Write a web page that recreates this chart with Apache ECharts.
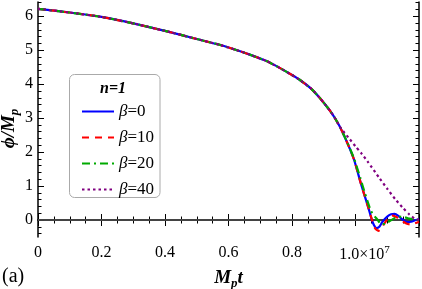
<!DOCTYPE html>
<html><head><meta charset="utf-8">
<script src="https://cdn.jsdelivr.net/npm/echarts@6/dist/echarts.min.js"></script>
<style>html,body{margin:0;padding:0;background:#fff}#c{width:422px;height:289px}</style>
</head><body><div id="c"></div>
<script>
// ---- data (t in units of 1e7, phi in units of M_p) ----
const tShared   = [0, 0.1, 0.2, 0.3, 0.4, 0.5, 0.572, 0.62, 0.667, 0.72, 0.761, 0.8, 0.824, 0.86, 0.887, 0.918, 0.934, 0.95];
const phiShared = [6.22, 6.11, 5.98, 5.79, 5.57, 5.33, 5.16, 5.02, 4.87, 4.68, 4.48, 4.27, 4.13, 3.87, 3.60, 3.24, 3.02, 2.76];

const tBeta0   = [0.971, 0.995, 1.018, 1.039, 1.05, 1.058, 1.066, 1.075, 1.085, 1.1, 1.112, 1.123, 1.135, 1.15, 1.162, 1.175, 1.19, 1.2];
const phiBeta0 = [2.34, 1.79, 1.04, 0.41, 0.05, -0.15, -0.24, -0.20, -0.05, 0.10, 0.17, 0.18, 0.12, 0.0, -0.06, -0.05, 0.0, 0.02];

const tBeta10   = [0.971, 0.995, 1.018, 1.039, 1.052, 1.062, 1.072, 1.083, 1.096, 1.108, 1.118, 1.13, 1.145, 1.16, 1.173, 1.186, 1.2];
const phiBeta10 = [2.34, 1.79, 1.04, 0.41, 0.0, -0.25, -0.32, -0.22, -0.03, 0.10, 0.13, 0.08, -0.02, -0.10, -0.13, -0.10, -0.05];

const tBeta20   = [0.971, 0.995, 1.015, 1.028, 1.049, 1.07, 1.082, 1.095, 1.12, 1.145, 1.17, 1.19, 1.2];
const phiBeta20 = [2.35, 1.82, 1.24, 0.84, 0.26, 0.0, -0.13, -0.10, 0.04, 0.10, 0.04, 0.0, 0.0];

const tBeta40   = [0.96, 0.98, 1.0, 1.018, 1.04, 1.075, 1.1, 1.128, 1.15, 1.17, 1.185, 1.2];
const phiBeta40 = [2.63, 2.40, 2.17, 1.97, 1.70, 1.24, 0.92, 0.58, 0.35, 0.16, 0.05, 0.0];

const seriesNames  = ['β=0', 'β=10', 'β=20', 'β=40'];
const yTickLabels  = [0, 1, 2, 3, 4, 5, 6];
const yMinorTicks  = [];
for (let v = -0.4; v <= 6.41; v += 0.2) yMinorTicks.push(Math.round(v * 10) / 10);
const zeroLine = [[0, 0], [1.2, 0]];

function build(ts, ps) {
  const a = tShared.map((t, i) => [t, phiShared[i]]);
  ts.forEach((t, i) => a.push([t, ps[i]]));
  return a;
}

const serif = '"Liberation Serif", "Times New Roman", "DejaVu Serif", serif';
const X0 = 0, X1 = 1.2, Y0 = -0.5, Y1 = 6.42;

const chart = echarts.init(document.getElementById('c'), null, {renderer: 'canvas'});

const frameLine = {show: true, lineStyle: {color: '#000', width: 1.5}};
const colors = ['#0000ff', '#ff0000', '#00aa00', '#800080'];
const styles = [
  {type: 'solid'},
  {type: [7, 6]},
  {type: [8, 4, 2, 4]},
  {type: [2.5, 3]}
];
const datasets = [build(tBeta0, phiBeta0), build(tBeta10, phiBeta10), build(tBeta20, phiBeta20), build(tBeta40, phiBeta40)];

const series = [{
  type: 'line', data: zeroLine, symbol: 'none', silent: true, z: 1,
  lineStyle: {color: '#555', width: 1.3}, xAxisIndex: 0, yAxisIndex: 0
}];
seriesNames.forEach((n, i) => series.push({
  name: n, type: 'line', data: datasets[i], symbol: 'none', showSymbol: false, smooth: 0.2, z: 3 + i,
  xAxisIndex: 0, yAxisIndex: 0,
  lineStyle: Object.assign({color: colors[i], width: 2.2}, styles[i]),
  itemStyle: {color: colors[i]}
}));

chart.setOption({
  animation: false,
  grid: {left: 38, right: 3, top: 2, bottom: 52, containLabel: false, outerBoundsMode: 'none'},
  xAxis: [
    {type: 'value', position: 'bottom', min: X0, max: X1, interval: 0.2,
      name: '{m|M}{s|p}{m|t}', nameLocation: 'middle', nameGap: 30, nameMoveOverlap: false,
      nameTextStyle: {rich: {
        m: {fontFamily: serif, fontStyle: 'italic', fontWeight: 'bold', fontSize: 19, color: '#000'},
        s: {fontFamily: serif, fontStyle: 'italic', fontWeight: 'bold', fontSize: 13, color: '#000', padding: [10, 0, 0, 0]}
      }},
      axisLine: frameLine,
      axisTick: {show: true, inside: true, length: 6, lineStyle: {color: '#000', width: 1}},
      minorTick: {show: true, splitNumber: 4, length: 3.5, lineStyle: {color: '#000', width: 1}},
      splitLine: {show: false},
      axisLabel: {margin: 8, color: '#000', fontFamily: serif, fontSize: 16,
        formatter: function (v) {
          if (v > 1.05) return '';
          if (Math.abs(v - 1) < 1e-6) return '{p|1.0×10}{e|7}';
          if (v === 0) return '{q|0}';
          return '{q|' + v.toFixed(1) + '}';
        },
        rich: {
          q: {fontFamily: serif, fontSize: 16, color: '#000'},
          p: {fontFamily: serif, fontSize: 16, color: '#000', padding: [0, 0, 0, 18]},
          e: {fontFamily: serif, fontSize: 11, color: '#000', padding: [0, 0, 9, 0]}
        }
      }
    },
    {type: 'value', position: 'top', min: X0, max: X1, interval: 0.2,
      axisLine: frameLine,
      axisTick: {show: true, inside: true, length: 6, lineStyle: {color: '#000', width: 1}},
      minorTick: {show: true, splitNumber: 4, length: 3.5, lineStyle: {color: '#000', width: 1}},
      splitLine: {show: false}, axisLabel: {show: false}
    }
  ],
  yAxis: [
    {type: 'value', position: 'left', min: Y0, max: Y1,
      name: '{m|ϕ/M}{s|p}', nameLocation: 'middle', nameGap: 17, nameRotate: 90, nameMoveOverlap: false,
      nameTextStyle: {padding: [0, 18, 0, 0], rich: {
        m: {fontFamily: serif, fontStyle: 'italic', fontWeight: 'bold', fontSize: 19, color: '#000'},
        s: {fontFamily: serif, fontStyle: 'italic', fontWeight: 'bold', fontSize: 13, color: '#000', padding: [10, 0, 0, 0]}
      }},
      axisLine: frameLine,
      axisTick: {show: true, inside: true, length: 6, customValues: yTickLabels, lineStyle: {color: '#000', width: 1}},
      splitLine: {show: false},
      axisLabel: {customValues: yTickLabels, margin: 5, color: '#000', fontFamily: serif, fontSize: 16}
    },
    {type: 'value', position: 'left', min: Y0, max: Y1,
      axisLine: {show: false},
      axisTick: {show: true, inside: true, length: 3.5, customValues: yMinorTicks, lineStyle: {color: '#000', width: 1}},
      splitLine: {show: false}, axisLabel: {show: false}
    },
    {type: 'value', position: 'right', min: Y0, max: Y1,
      axisLine: frameLine,
      axisTick: {show: true, inside: true, length: 6, customValues: yTickLabels, lineStyle: {color: '#000', width: 1}},
      splitLine: {show: false}, axisLabel: {show: false}
    },
    {type: 'value', position: 'right', min: Y0, max: Y1,
      axisLine: {show: false},
      axisTick: {show: true, inside: true, length: 3.5, customValues: yMinorTicks, lineStyle: {color: '#000', width: 1}},
      splitLine: {show: false}, axisLabel: {show: false}
    }
  ],
  legend: {
    data: seriesNames, orient: 'vertical', left: 76, top: 98, itemWidth: 32, itemHeight: 14,
    itemGap: 9, z: 10, selectedMode: false,
    itemStyle: {opacity: 0, borderWidth: 0},
    formatter: function (n) { return '{b|β}{r|' + n.slice(1) + '}'; },
    textStyle: {
      rich: {
        b: {fontFamily: serif, fontStyle: 'italic', fontSize: 17, color: '#000'},
        r: {fontFamily: serif, fontSize: 17, color: '#000'}
      }
    }
  },
  graphic: [
    {type: 'rect', z: 5, shape: {x: 69.5, y: 74.5, width: 90.5, height: 123, r: 5},
      style: {fill: '#fff', stroke: '#aaaaaa', lineWidth: 1}},
    {type: 'text', z: 6, x: 113, y: 89, style: {text: 'n=1', fill: '#000', font: 'italic bold 16px "Liberation Serif"', textAlign: 'center', textVerticalAlign: 'middle'}},
    {type: 'text', z: 6, x: 2, y: 277, style: {text: '(a)', fill: '#000', font: '20px "Liberation Serif"', textAlign: 'left', textVerticalAlign: 'middle'}}
  ],
  series: series
});
</script></body></html>
